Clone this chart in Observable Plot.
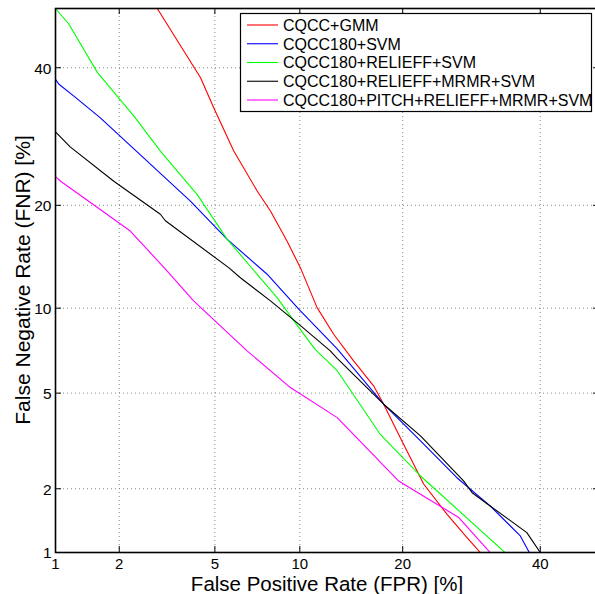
<!DOCTYPE html>
<html><head><meta charset="utf-8">
<script src="https://cdn.jsdelivr.net/npm/d3@7"></script>
<script src="https://cdn.jsdelivr.net/npm/@observablehq/plot@0.6"></script>
<style>body{margin:0;background:#fff;font-family:"Liberation Sans",Arial,sans-serif;} #chart svg{overflow:hidden;display:block}</style>
</head><body><div id="chart"></div>
<script>
// Series names & colours
const seriesNames = ["CQCC+GMM","CQCC180+SVM","CQCC180+RELIEFF+SVM","CQCC180+RELIEFF+MRMR+SVM","CQCC180+PITCH+RELIEFF+MRMR+SVM"];
const seriesColors = ["#ff0000","#0000ff","#00ff00","#000000","#ff00ff"];

// Values in percent (FPR, FNR)
const gmmFPR = [2.93,4.40,4.95,5.89,7.16,7.97,9.07,10.04,11.36,12.78,14.65,16.7,17.8,19.7,22.6,25.7,28.3,30.5];
const gmmFNR = [50,38.35,33.55,27.1,21.76,19.33,16.0,13.39,10.04,8.18,6.59,5.33,4.53,3.33,2.1,1.53,1.21,1.0];

const svmFPR = [1.0,1.04,1.23,1.64,4.01,5.56,7.76,9.92,13.1,17.8,22.2,27.1,32.0,36.7,38.2];
const svmFNR = [38.1,37.3,35.4,32.0,20.5,16.2,12.79,9.93,7.27,4.53,3.22,2.24,1.67,1.21,1.0];

const relFPR = [1.0,1.16,1.59,2.32,3.02,4.27,5.56,8.41,9.66,11.2,13.1,17.4,22.2,34.3];
const relFNR = [50,47.4,39.2,32.3,27.1,21.3,16.2,10.8,8.96,7.25,6.07,3.44,2.28,1.0];

const mrmrFPR = [1.0,1.18,1.89,3.02,3.17,5.64,6.23,7.97,9.92,12.48,13.1,17.8,22.2,28.05,29.3,32.0,37.8,40.0];
const mrmrFNR = [29.9,27.7,23.0,18.95,18.2,13.39,12.48,10.56,8.86,7.16,6.73,4.53,3.38,2.17,1.92,1.67,1.25,1.0];

const pitchFPR = [1.0,1.06,2.24,3.22,4.13,6.59,9.31,13.1,19.5,20.1,27.3,32.0];
const pitchFNR = [23.6,23.0,17.06,13.1,10.56,7.16,5.25,4.01,2.17,2.1,1.48,1.0];

const xTickLabels = [1,2,5,10,20,40];
const yTickLabels = [1,2,5,10,20,40];
const xDomainPct = [1,50];
const yDomainPct = [1,50];

// inverse standard normal CDF (Acklam)
function probit(p){
  const a=[-3.969683028665376e+01,2.209460984245205e+02,-2.759285104469687e+02,1.383577518672690e+02,-3.066479806614716e+01,2.506628277459239e+00];
  const b=[-5.447609879822406e+01,1.615858368580409e+02,-1.556989798598866e+02,6.680131188771972e+01,-1.328068155288572e+01];
  const c=[-7.784894002430293e-03,-3.223964580411365e-01,-2.400758277161838e+00,-2.549732539343734e+00,4.374664141464968e+00,2.938163982698783e+00];
  const d=[7.784695709041462e-03,3.224671290700398e-01,2.445134137142996e+00,3.754408661907416e+00];
  const pl=0.02425, ph=1-pl; let q,r;
  if(p<pl){q=Math.sqrt(-2*Math.log(p));return (((((c[0]*q+c[1])*q+c[2])*q+c[3])*q+c[4])*q+c[5])/((((d[0]*q+d[1])*q+d[2])*q+d[3])*q+1);}
  if(p<=ph){q=p-0.5;r=q*q;return (((((a[0]*r+a[1])*r+a[2])*r+a[3])*r+a[4])*r+a[5])*q/(((((b[0]*r+b[1])*r+b[2])*r+b[3])*r+b[4])*r+1);}
  q=Math.sqrt(-2*Math.log(1-p));return -(((((c[0]*q+c[1])*q+c[2])*q+c[3])*q+c[4])*q+c[5])/((((d[0]*q+d[1])*q+d[2])*q+d[3])*q+1);
}
const P = v => probit(v/100);

const seriesData = [[gmmFPR,gmmFNR],[svmFPR,svmFNR],[relFPR,relFNR],[mrmrFPR,mrmrFNR],[pitchFPR,pitchFNR]];
const rows = [];
seriesData.forEach(([xs,ys],k) => xs.forEach((x,i) => rows.push({series: seriesNames[k], x: P(x), y: P(ys[i])})));

const W = 595, H = 594;
const mL = 55, mR = -4, mT = 8, mB = 42;
const FONT = "Liberation Sans, Arial, sans-serif";
const xDom = xDomainPct.map(P), yDom = yDomainPct.map(P);
const pxPerX = (W - mL - mR) / (xDom[1]-xDom[0]);
const pxPerY = (H - mT - mB) / (yDom[1]-yDom[0]);
const tickLen = 6;
const xT = xTickLabels.map(v => ({z: P(v), label: String(v)}));
const yT = yTickLabels.map(v => ({z: P(v), label: String(v)}));

const chart = Plot.plot({
  width: W, height: H,
  marginLeft: mL, marginRight: mR, marginTop: mT, marginBottom: mB,
  style: {background: "#fff", fontFamily: FONT, color: "black", overflow: "hidden"},
  x: {domain: xDom, axis: null},
  y: {domain: yDom, axis: null},
  color: {domain: seriesNames, range: seriesColors},
  marks: [
    Plot.ruleX(xT.slice(1), {x: "z", stroke: "#888", strokeDasharray: "1,3", strokeWidth: 1}),
    Plot.ruleY(yT.slice(1), {y: "z", stroke: "#888", strokeDasharray: "1,3", strokeWidth: 1}),
    // inward tick marks
    Plot.ruleX(xT, {x: "z", y1: yDom[0], y2: yDom[0] + tickLen/pxPerY, stroke: "black"}),
    Plot.ruleX(xT, {x: "z", y1: yDom[1], y2: yDom[1] - tickLen/pxPerY, stroke: "black"}),
    Plot.ruleY(yT, {y: "z", x1: xDom[0], x2: xDom[0] + tickLen/pxPerX, stroke: "black"}),
    Plot.ruleY(yT, {y: "z", x1: xDom[1], x2: xDom[1] - tickLen/pxPerX, stroke: "black"}),
    Plot.line(rows, {x: "x", y: "y", z: "series", stroke: "series", strokeWidth: 1.1, clip: true, curve: "linear"}),
    Plot.frame({stroke: "black", strokeWidth: 1.6}),
    Plot.text(xT, {x: "z", y: () => yDom[0], text: "label", dy: 12, fontSize: 15, fill: "black", lineAnchor: "middle"}),
    Plot.text(yT, {x: () => xDom[0], y: "z", text: "label", dx: -4, dy: 1, textAnchor: "end", fontSize: 15.5, fill: "black", lineAnchor: "middle"})
  ]
});
document.getElementById("chart").appendChild(chart);

// Axis titles and legend
const svg = d3.select(chart);
svg.append("text").attr("x", (mL + W - mR)/2).attr("y", 591).attr("text-anchor","middle")
  .attr("font-family", FONT).attr("font-size", 20.5).attr("fill","black").text("False Positive Rate (FPR) [%]");
svg.append("text").attr("transform", `translate(30,${(mT + H - mB)/2}) rotate(-90)`).attr("text-anchor","middle")
  .attr("font-family", FONT).attr("font-size", 21).attr("fill","black").text("False Negative Rate (FNR) [%]");

const lg = svg.append("g");
lg.append("rect").attr("x", 240.5).attr("y", 13.5).attr("width", 351).attr("height", 98)
  .attr("fill","white").attr("stroke","black").attr("stroke-width",1.2);
seriesNames.forEach((name,i) => {
  const yy = 25 + i*18.75;
  lg.append("line").attr("x1",247).attr("x2",278).attr("y1",yy).attr("y2",yy).attr("stroke",seriesColors[i]).attr("stroke-width",1.1);
  lg.append("text").attr("x",283).attr("y",yy).attr("dy","0.36em").attr("text-anchor","start")
    .attr("font-family", FONT).attr("font-size",16).attr("fill","black").text(name);
});
</script>
</body></html>
